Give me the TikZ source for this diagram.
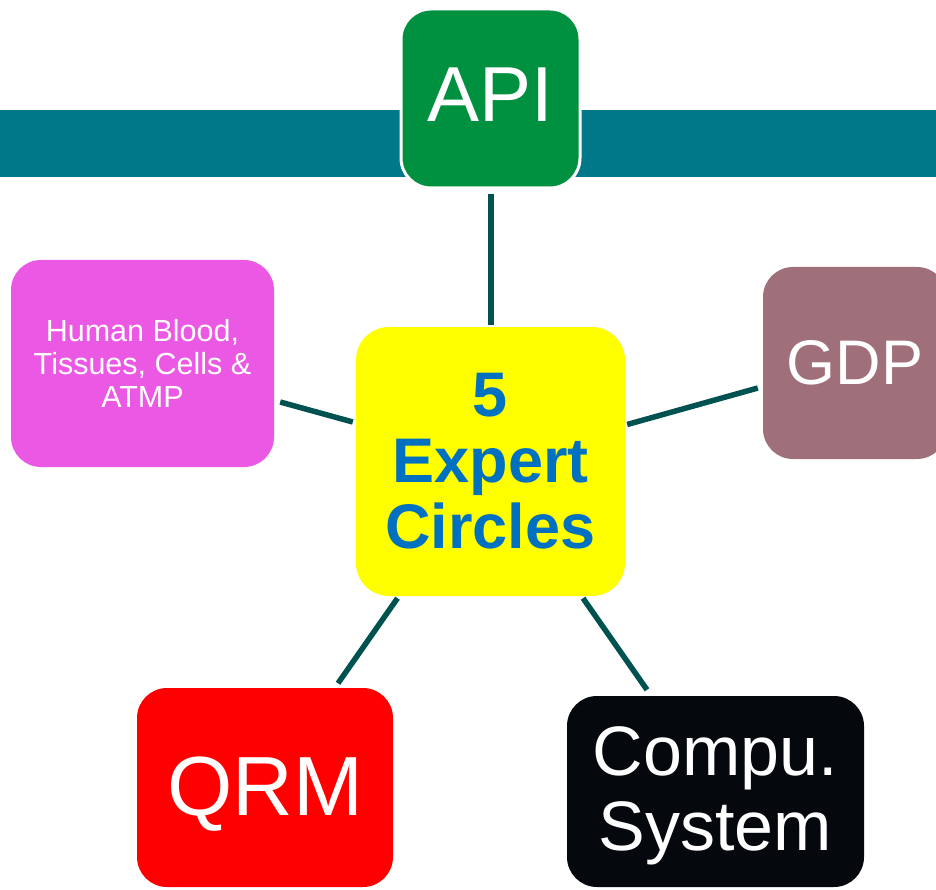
\documentclass[tikz,border=0pt]{standalone}
\usepackage{fontspec}
\setmainfont{Liberation Sans}
\usetikzlibrary{calc}
\definecolor{bandc}{RGB}{0,120,138}
\definecolor{apic}{RGB}{0,145,64}
\definecolor{pinkc}{RGB}{234,88,228}
\definecolor{gdpc}{RGB}{160,112,122}
\definecolor{redc}{RGB}{255,0,0}
\definecolor{blackc}{RGB}{5,9,14}
\definecolor{yellowc}{RGB}{255,255,0}
\definecolor{bluec}{RGB}{0,112,192}
\definecolor{linkc}{RGB}{0,82,80}
\tikzset{
  box/.style={rounded corners=30pt, inner sep=0pt, align=center, text=white},
  link/.style={draw=linkc, line width=5.5pt}
}
\begin{document}
\begin{tikzpicture}[x=1pt,y=-1pt]
\useasboundingbox (0,0) rectangle (936,890);
\clip (0,0) rectangle (936,890);
\fill[bandc] (0,110) rectangle (936,177);
\node[box, fill=apic, draw=white, line width=3pt, minimum width=179pt, minimum height=179pt,
  font=\fontsize{78}{80}\selectfont] (api) at (490.5,98.5) {\raisebox{4pt}[\height][\depth]{API}};
\node[box, fill=yellowc, rounded corners=33pt, minimum width=269pt, minimum height=269pt,
  text=bluec, font=\fontsize{63}{66}\selectfont\bfseries] (ctr) at (490.5,461.5) {5\\Expert\\Circles};
\node[box, fill=pinkc, minimum width=263pt, minimum height=207pt,
  font=\fontsize{30.5}{33}\selectfont] (pink) at (142.5,363.5) {Human Blood,\\Tissues, Cells \&\\ATMP};
\node[box, fill=gdpc, minimum width=184pt, minimum height=192pt,
  font=\fontsize{63}{66}\selectfont] (gdp) at (855,363) {GDP};
\node[box, fill=redc, minimum width=256pt, minimum height=199pt,
  font=\fontsize{84}{86}\selectfont] (qrm) at (265,787.5) {\raisebox{-7pt}[\height][\depth]{QRM}};
\node[box, fill=blackc, minimum width=297pt, minimum height=191pt,
  font=\fontsize{70}{75}\selectfont] (cmp) at (715.5,791.5) {\raisebox{-4pt}[\height][\depth]{Compu.}\\\raisebox{-4pt}[\height][\depth]{System}};
\draw[link] ($(api.south)+(0.5,5)$) -- ($(ctr.north)+(0.5,-2)$);
\draw[link] ($(pink.east)+(6,38.5)$) -- ($(ctr.west)+(-3,-39.5)$);
\draw[link] ($(ctr.east)+(2,-37)$) -- ($(gdp.west)+(-5,25)$);
\draw[link] ($(ctr.south)+(-93,2)$) -- ($(qrm.north)+(73,-4.5)$);
\draw[link] ($(ctr.south)+(92.5,2)$) -- ($(cmp.north)+(-68.5,-6)$);
\end{tikzpicture}
\end{document}
